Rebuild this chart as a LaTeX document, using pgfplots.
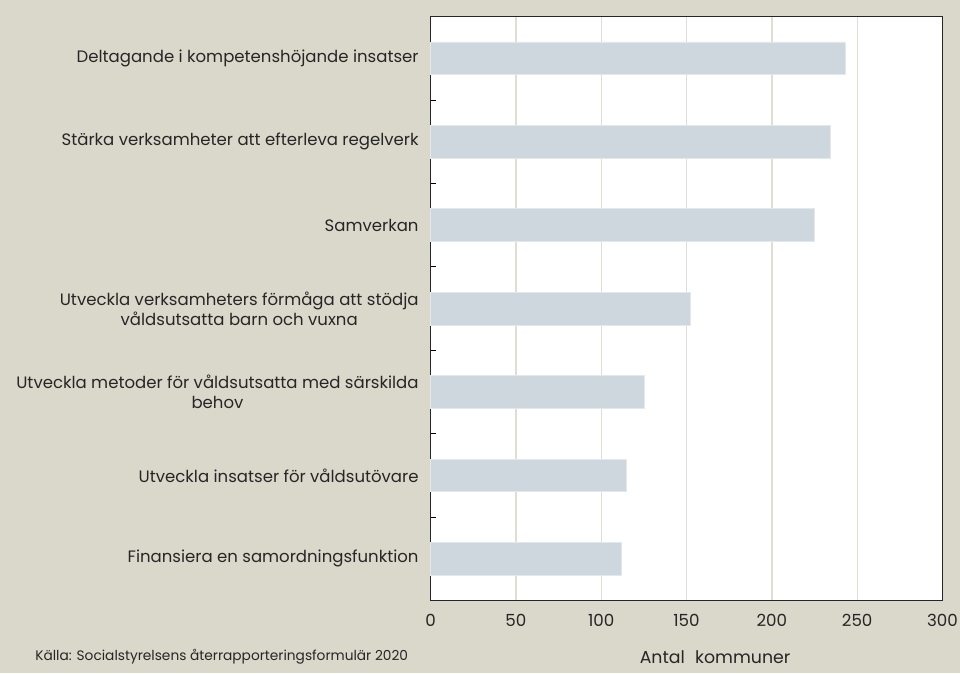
\documentclass[border=0pt]{standalone}
\usepackage{pgfplots}
\pgfplotsset{compat=1.18}
\usepackage{fontspec}
\setmainfont{Poppins}
\definecolor{bg}{RGB}{218,215,203}
\definecolor{barc}{RGB}{205,215,221}
\definecolor{baredge}{RGB}{226,232,236}
\definecolor{gridc}{RGB}{224,221,212}
\begin{document}
\begin{tikzpicture}
\fill[bg] (-322.9pt,-54.4pt) rectangle (397.1pt,450.4pt);
\begin{axis}[
  at={(0,0)}, anchor=south west,
  scale only axis,
  width=384pt, height=438pt,
  xbar, bar width=24.5pt,
  xmin=0, xmax=300,
  ymin=-0.5, ymax=6.5,
  y dir=reverse,
  axis background/.style={fill=white},
  axis line style={draw=black!85, line width=0.9pt},
  xtick={0,50,...,300},
  xmajorgrids,
  grid style={draw=gridc, line width=1pt},
  xtick style={draw=none},
  ytick={0,...,6},
  ytick pos=left,
  ytick style={draw=none},
  yticklabels={
    {Deltagande i kompetenshöjande insatser},
    {Stärka verksamheter att efterleva regelverk},
    {Samverkan},
    {Utveckla verksamheters förmåga att stödja\\våldsutsatta barn och vuxna},
    {Utveckla metoder för våldsutsatta med särskilda\\behov},
    {Utveckla insatser för våldsutövare},
    {Finansiera en samordningsfunktion}},
  extra y ticks={0.5,1.5,2.5,3.5,4.5,5.5},
  extra y tick labels={},
  extra y tick style={ytick style={draw=black, line width=0.6pt}, major tick length=4pt, tick align=inside, ytick pos=left, yticklabels={}},
  yticklabel style={align=center, font=\fontsize{12.4}{15}\selectfont, text=black!85, inner sep=0pt, xshift=-4.5pt},
  xticklabel style={font=\fontsize{12.5}{14}\selectfont, text=black!85, inner sep=0pt, yshift=-10pt},
  /pgf/number format/assume math mode=true,
  tick label style={/pgf/number format/1000 sep={}},
  clip=false,
]
\addplot[fill=barc, draw=baredge, line width=0.5pt] coordinates {
  (243,0) (234,1) (225,2) (152,3) (125,4) (115,5) (112,6)};
\end{axis}
\node[font=\fontsize{13}{15}\selectfont, text=black!85] at (213.4pt,-42.4pt) {Antal\hspace{0.6em}kommuner};
\node[font=\fontsize{10.3}{12}\selectfont, text=black!85, anchor=west, inner sep=0pt] at (-296.6pt,-42.4pt) {Källa: Socialstyrelsens återrapporteringsformulär 2020};
\pgfresetboundingbox
\path[use as bounding box] (-322.9pt,-54.4pt) rectangle (397.1pt,450.4pt);
\end{tikzpicture}
\end{document}
